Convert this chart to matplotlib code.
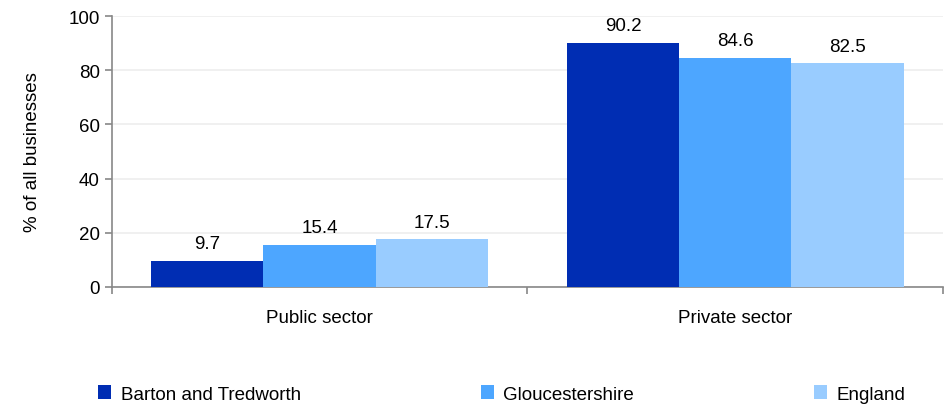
import matplotlib
matplotlib.use("Agg")
import matplotlib.pyplot as plt
import numpy as np

plt.rcParams['font.family'] = ['Liberation Sans', 'DejaVu Sans']

categories = ["Public sector", "Private sector"]
series = ["Barton and Tredworth", "Gloucestershire", "England"]
barton = [9.7, 90.2]
glos = [15.4, 84.6]
england = [17.5, 82.5]
colors = ["#002DB3", "#4DA6FF", "#99CCFF"]

fs = 13.5

fig = plt.figure(figsize=(9.47, 4.06), dpi=100)
ax = fig.add_axes([0.118, 0.291, 0.878, 0.667])

x = np.arange(len(categories))
w = 0.27
for i, (vals, name) in enumerate(zip([barton, glos, england], series)):
    pos = x + (i - 1) * w
    bars = ax.bar(pos, vals, w, color=colors[i], label=name, zorder=3)
    for b, v in zip(bars, vals):
        ax.text(b.get_x() + b.get_width() / 2, v + 3.3, f"{v:.1f}",
                ha="center", va="bottom", fontsize=fs)

ax.set_xlim(-0.5, 1.5)
ax.set_ylim(0, 100)
ax.set_yticks(range(0, 101, 20))
ax.yaxis.grid(True, color="#EEEEEE", linewidth=1.2, zorder=0)
ax.set_xticks([-0.5, 0.5, 1.5])
ax.set_xticklabels([])
ax.tick_params(axis="x", length=5, color="#888888", width=1.2)
ax.tick_params(axis="y", length=5, color="#888888", width=1.2, labelsize=fs)
for s in ["top", "right"]:
    ax.spines[s].set_visible(False)
for s in ["left", "bottom"]:
    ax.spines[s].set_color("#888888")
    ax.spines[s].set_linewidth(1.2)
for xi, c in zip(x, categories):
    ax.text(xi, -8, c, ha="center", va="top", fontsize=fs,
            transform=ax.transData)
ax.set_ylabel("% of all businesses", fontsize=fs, labelpad=20)

fig.legend(loc="center", bbox_to_anchor=(0.53, 0.027), ncol=3, frameon=False,
           fontsize=fs, handlelength=0.7, handleheight=0.7, handletextpad=0.5,
           columnspacing=9.6)

fig.savefig("out.png", dpi=100)
